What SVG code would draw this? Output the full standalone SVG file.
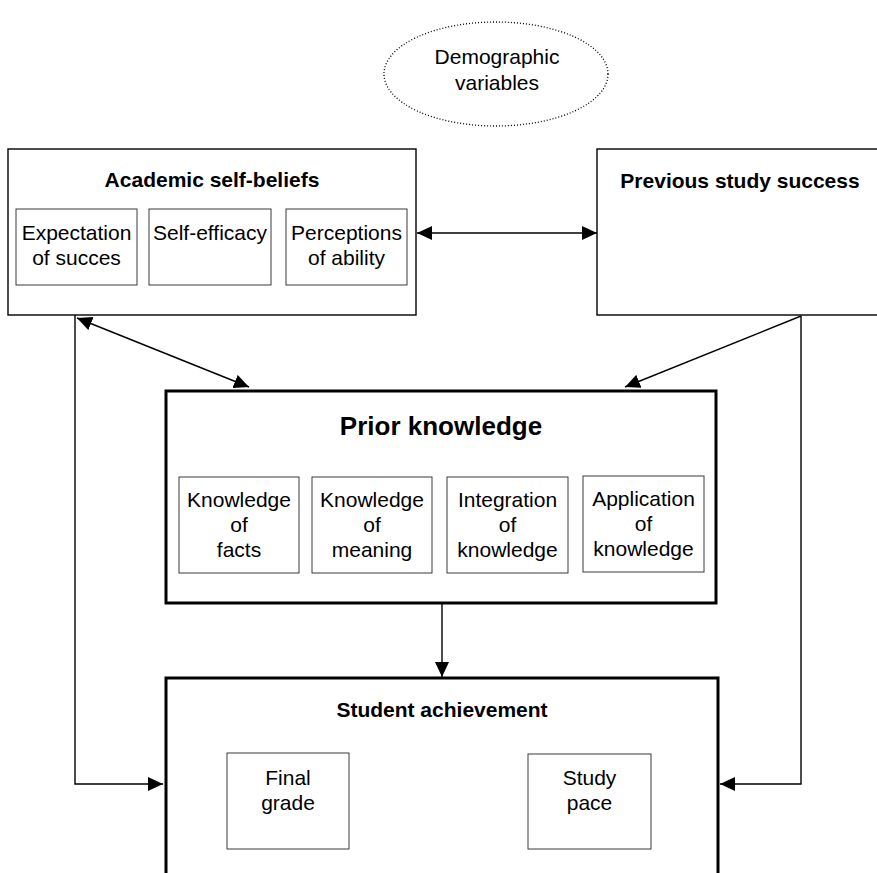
<svg xmlns="http://www.w3.org/2000/svg" width="877" height="873" viewBox="0 0 877 873">
  <style>
    text { font-family: "Liberation Sans", Arial, Helvetica, sans-serif; fill: #000; text-anchor: middle; }
    .t { font-size: 21px; }
    .h { font-size: 21px; font-weight: bold; }
    .hb { font-size: 26px; font-weight: bold; }
    .box { fill: #fff; stroke: #000; stroke-width: 1.4; }
    .heavy { fill: #fff; stroke: #000; stroke-width: 3; }
    .sub { fill: #fff; stroke: #3a3a3a; stroke-width: 1; }
    .oval { fill: #fff; stroke: #000; stroke-width: 1.3; stroke-dasharray: 1 2; }
    .link { fill: none; stroke: #000; stroke-width: 1.4; }
  </style>
  <defs>
    <marker id="arrow" markerUnits="userSpaceOnUse" markerWidth="16" markerHeight="14" refX="15" refY="7" orient="auto-start-reverse">
      <path d="M0,0 L15,7 L0,14 z" fill="#000"/>
    </marker>
  </defs>
  <rect width="877" height="873" fill="#fff"/>

  <g id="demographic-variables">
    <ellipse class="oval" cx="496" cy="74" rx="112" ry="52"/>
    <text class="t" x="497" y="64">Demographic</text>
    <text class="t" x="497" y="90">variables</text>
  </g>

  <g id="academic-self-beliefs">
    <rect class="box" x="8" y="149" width="408" height="166"/>
    <text class="h" x="212" y="187">Academic self-beliefs</text>
    <rect class="sub" x="16" y="209" width="121" height="76"/>
    <text class="t" x="76.5" y="240">Expectation</text>
    <text class="t" x="76.5" y="265">of succes</text>
    <rect class="sub" x="149" y="209" width="122" height="76"/>
    <text class="t" x="210" y="240">Self-efficacy</text>
    <rect class="sub" x="286" y="209" width="121" height="76"/>
    <text class="t" x="346.5" y="240">Perceptions</text>
    <text class="t" x="346.5" y="265">of ability</text>
  </g>

  <g id="previous-study-success">
    <rect class="box" x="597" y="149" width="300" height="166"/>
    <text class="h" x="740" y="188">Previous study success</text>
  </g>

  <g id="prior-knowledge">
    <rect class="heavy" x="166" y="391" width="550" height="212"/>
    <text class="hb" x="441" y="435">Prior knowledge</text>
    <rect class="sub" x="179" y="477" width="120" height="96"/>
    <text class="t" x="239" y="507">Knowledge</text>
    <text class="t" x="239" y="532">of</text>
    <text class="t" x="239" y="557">facts</text>
    <rect class="sub" x="312" y="477" width="120" height="96"/>
    <text class="t" x="372" y="507">Knowledge</text>
    <text class="t" x="372" y="532">of</text>
    <text class="t" x="372" y="557">meaning</text>
    <rect class="sub" x="447" y="477" width="121" height="96"/>
    <text class="t" x="507.5" y="507">Integration</text>
    <text class="t" x="507.5" y="532">of</text>
    <text class="t" x="507.5" y="557">knowledge</text>
    <rect class="sub" x="583" y="476" width="121" height="96"/>
    <text class="t" x="643.5" y="506">Application</text>
    <text class="t" x="643.5" y="531">of</text>
    <text class="t" x="643.5" y="556">knowledge</text>
  </g>

  <g id="student-achievement">
    <rect class="heavy" x="166" y="678" width="552" height="220"/>
    <text class="h" x="442" y="717">Student achievement</text>
    <rect class="sub" x="227" y="753" width="122" height="96"/>
    <text class="t" x="288" y="785">Final</text>
    <text class="t" x="288" y="810">grade</text>
    <rect class="sub" x="528" y="754" width="123" height="95"/>
    <text class="t" x="589.5" y="785">Study</text>
    <text class="t" x="589.5" y="810">pace</text>
  </g>

  <g id="connectors">
    <line class="link" x1="417" y1="233" x2="597" y2="233" marker-start="url(#arrow)" marker-end="url(#arrow)"/>
    <line class="link" x1="77" y1="318" x2="249" y2="387" marker-start="url(#arrow)" marker-end="url(#arrow)"/>
    <line class="link" x1="801" y1="316" x2="625" y2="387" marker-end="url(#arrow)"/>
    <line class="link" x1="442" y1="603" x2="442" y2="677" marker-end="url(#arrow)"/>
    <polyline class="link" points="75,315 75,784 163,784" marker-end="url(#arrow)"/>
    <polyline class="link" points="801,316 801,784 720,784" marker-end="url(#arrow)"/>
  </g>
</svg>
